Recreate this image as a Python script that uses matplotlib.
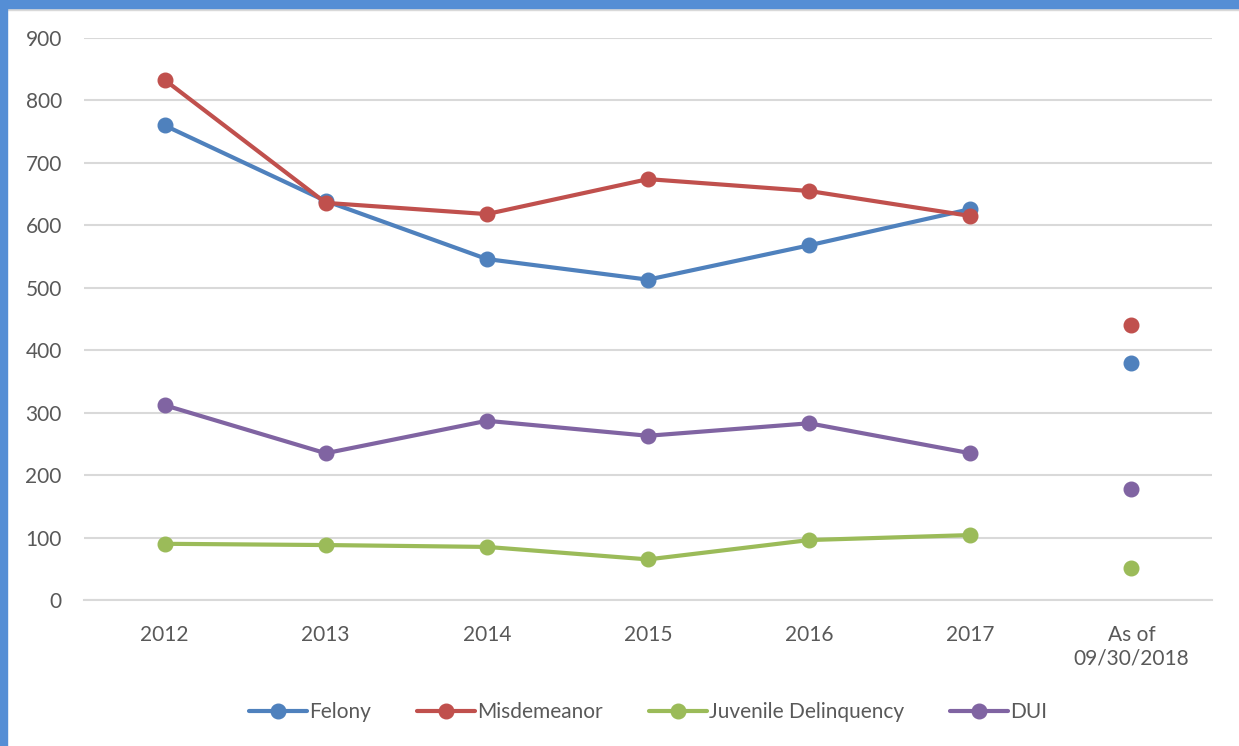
import matplotlib.pyplot as plt
from matplotlib.patches import Rectangle
import numpy as np

categories = ['2012', '2013', '2014', '2015', '2016', '2017', 'As of\n09/30/2018']
felony = [760, 639, 546, 513, 568, 626, 380]
misdemeanor = [833, 636, 618, 674, 655, 615, 440]
juvenile = [90, 88, 85, 65, 96, 104, 52]
dui = [312, 235, 287, 263, 283, 235, 178]

series = [
    ('Felony', felony, '#4F81BD'),
    ('Misdemeanor', misdemeanor, '#C0504D'),
    ('Juvenile Delinquency', juvenile, '#9BBB59'),
    ('DUI', dui, '#8064A2'),
]

plt.rcParams['font.family'] = ['Lato', 'DejaVu Sans']
txt_col = '#595959'

fig = plt.figure(figsize=(12.39, 7.46), dpi=100)
ax = fig.add_axes([84 / 1239, 146 / 746, 1128 / 1239, 562 / 746])

x = np.arange(len(categories))
for name, vals, col in series:
    ax.plot(x[:6], vals[:6], '-o', color=col, lw=3, ms=10.5, label=name,
            solid_capstyle='round', zorder=3)
    ax.plot(x[6:], vals[6:], 'o', color=col, ms=10.5, zorder=3)

ax.set_xlim(-0.5, 6.5)
ax.set_ylim(0, 900)
ax.set_yticks(range(0, 901, 100))
ax.set_xticks(x)
ax.set_xticklabels(categories)
ax.grid(axis='y', color='#D9D9D9', lw=1.5, zorder=0)
for s in ['top', 'right', 'left']:
    ax.spines[s].set_visible(False)
ax.spines['bottom'].set_color('#D9D9D9')
ax.spines['bottom'].set_linewidth(1.5)
ax.tick_params(length=0, labelsize=15, colors=txt_col)
ax.tick_params(axis='y', pad=16)
ax.tick_params(axis='x', pad=18)

leg = ax.legend(loc='center', bbox_to_anchor=(0.5, -0.2), ncol=4, frameon=False,
                fontsize=15, handlelength=2.8, handletextpad=0.1, columnspacing=2.2)
for t in leg.get_texts():
    t.set_color(txt_col)

fig.patches.append(Rectangle((0, 1 - 8 / 746), 1, 8 / 746, transform=fig.transFigure,
                             color='#558ED5', zorder=5))
fig.patches.append(Rectangle((0, 0), 7 / 1239, 1, transform=fig.transFigure,
                             color='#558ED5', zorder=5))
fig.patches.append(Rectangle((7 / 1239, 1 - 10 / 746), 1, 2 / 746, transform=fig.transFigure,
                             color='#D9D9D9', zorder=4))

fig.savefig('out.png', dpi=100)
